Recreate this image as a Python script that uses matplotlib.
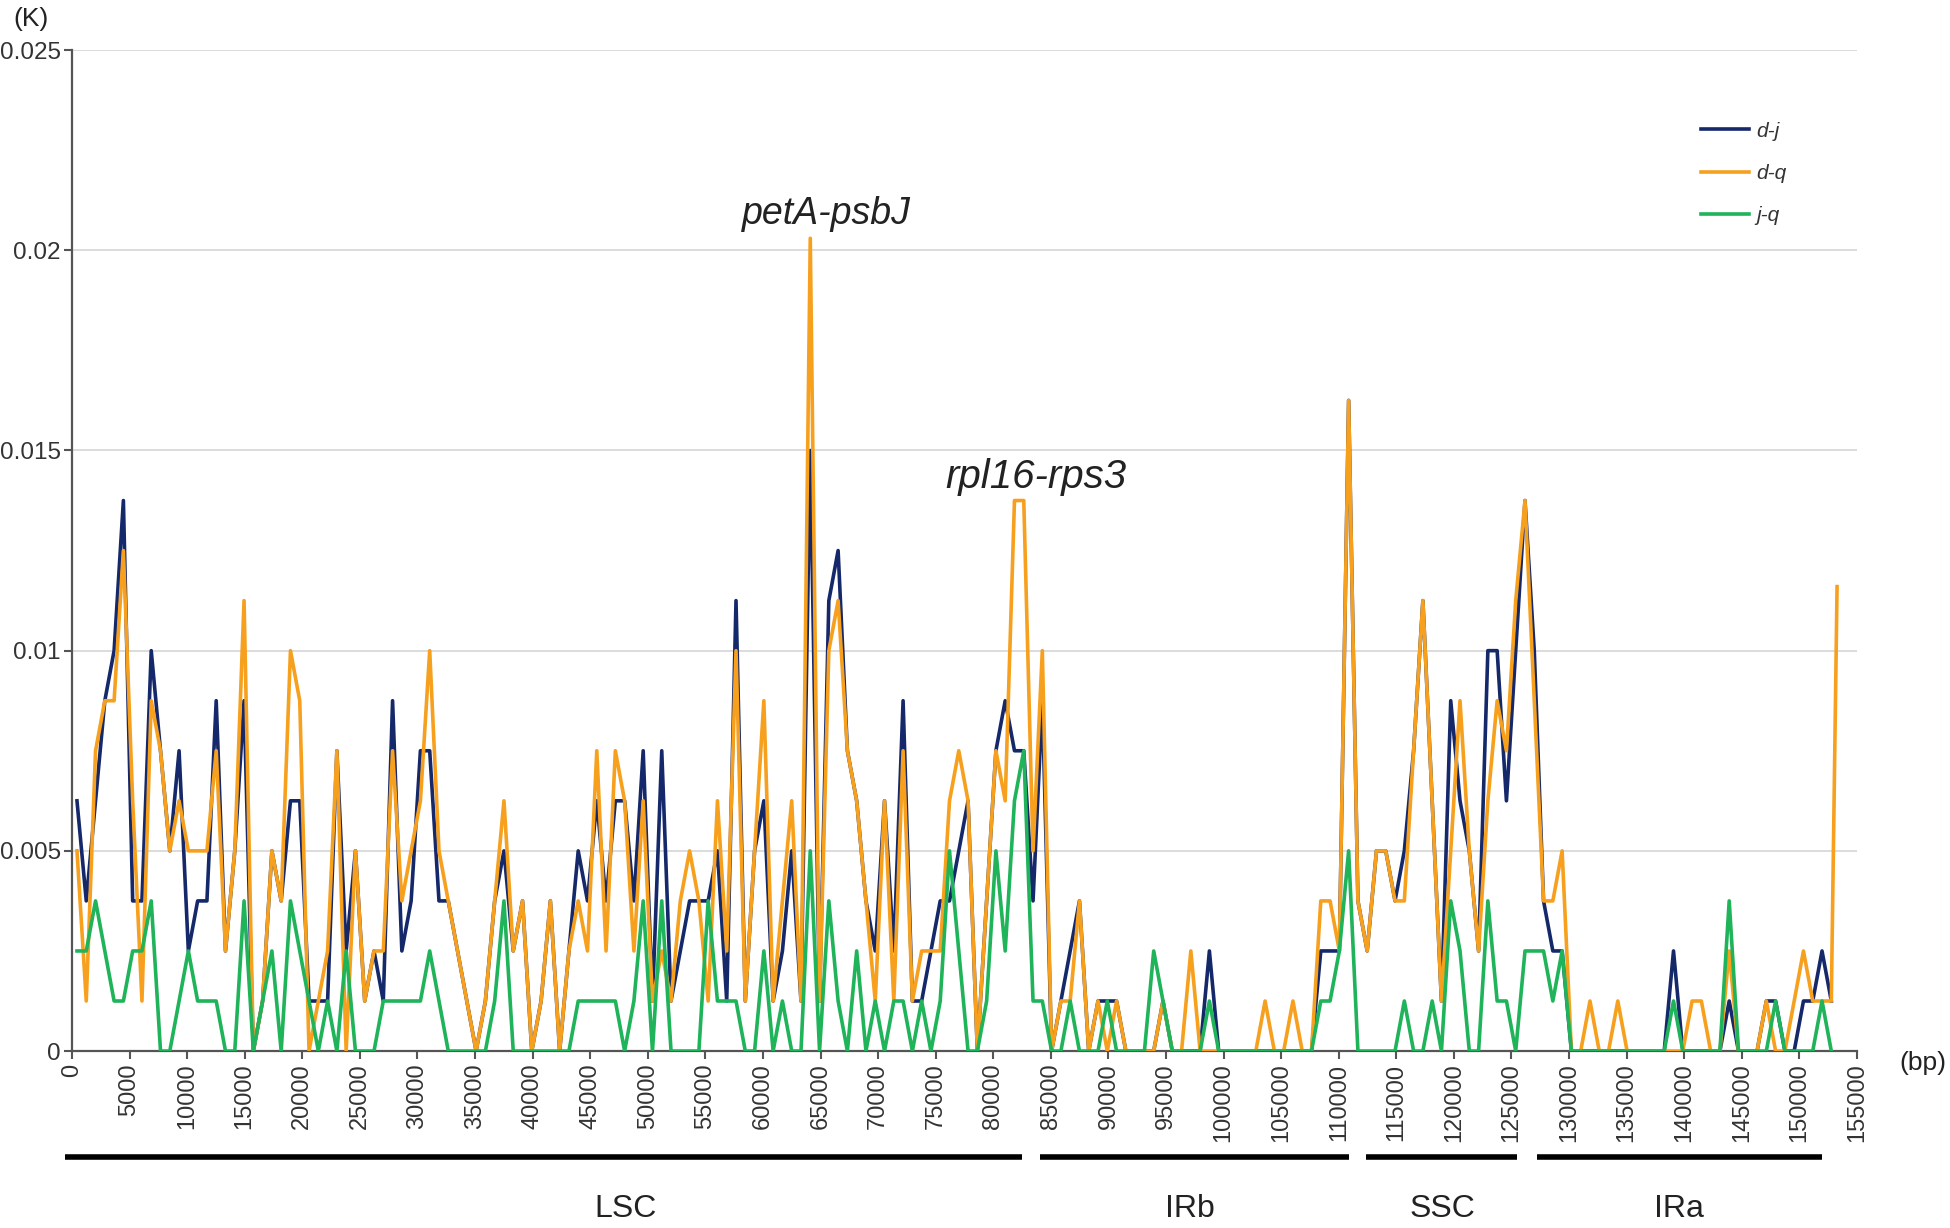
import numpy as np
import matplotlib
matplotlib.use("Agg")
import matplotlib.pyplot as plt
from matplotlib.ticker import FuncFormatter
import matplotlib.transforms as mtransforms

plt.rcParams['font.family'] = ['Liberation Sans', 'DejaVu Sans']

# sliding window midpoints (bp)
win_mid = np.arange(190) * 806 + 436
last_x = 153270

# K values per window
dj = [0.00625, 0.00375, 0.00625, 0.00875, 0.01, 0.01375, 0.00375, 0.00375, 0.01, 0.0075,
      0.005, 0.0075, 0.0025, 0.00375, 0.00375, 0.00875, 0.0025, 0.005, 0.00875, 0,
      0.00125, 0.005, 0.00375, 0.00625, 0.00625, 0.00125, 0.00125, 0.00125, 0.0075, 0.0025,
      0.005, 0.00125, 0.0025, 0.00125, 0.00875, 0.0025, 0.00375, 0.0075, 0.0075, 0.00375,
      0.00375, 0.0025, 0.00125, 0, 0.00125, 0.00375, 0.005, 0.0025, 0.00375, 0,
      0.00125, 0.00375, 0, 0.0025, 0.005, 0.00375, 0.00625, 0.00375, 0.00625, 0.00625,
      0.00375, 0.0075, 0.00125, 0.0075, 0.00125, 0.0025, 0.00375, 0.00375, 0.00375, 0.005,
      0.00125, 0.01125, 0.00125, 0.005, 0.00625, 0.00125, 0.0025, 0.005, 0.00125, 0.015,
      0.00125, 0.01125, 0.0125, 0.0075, 0.00625, 0.00375, 0.0025, 0.00625, 0.0025, 0.00875,
      0.00125, 0.00125, 0.0025, 0.00375, 0.00375, 0.005, 0.00625, 0, 0.00375, 0.0075,
      0.00875, 0.0075, 0.0075, 0.00375, 0.00875, 0, 0.00125, 0.0025, 0.00375, 0,
      0.00125, 0.00125, 0.00125, 0, 0, 0, 0, 0.00125, 0, 0,
      0, 0, 0.0025, 0, 0, 0, 0, 0, 0, 0,
      0, 0, 0, 0, 0.0025, 0.0025, 0.0025, 0.01625, 0.00375, 0.0025,
      0.005, 0.005, 0.00375, 0.005, 0.0075, 0.01125, 0.00625, 0.00125, 0.00875, 0.00625,
      0.005, 0.0025, 0.01, 0.01, 0.00625, 0.01, 0.01375, 0.01, 0.00375, 0.0025,
      0.0025, 0, 0, 0, 0, 0, 0, 0, 0, 0,
      0, 0, 0.0025, 0, 0, 0, 0, 0, 0.00125, 0,
      0, 0, 0.00125, 0.00125, 0, 0, 0.00125, 0.00125, 0.0025, 0.00125]

dq = [0.005, 0.00125, 0.0075, 0.00875, 0.00875, 0.0125, 0.00625, 0.00125, 0.00875, 0.0075,
      0.005, 0.00625, 0.005, 0.005, 0.005, 0.0075, 0.0025, 0.005, 0.01125, 0,
      0.00125, 0.005, 0.00375, 0.01, 0.00875, 0, 0.00125, 0.0025, 0.0075, 0,
      0.005, 0.00125, 0.0025, 0.0025, 0.0075, 0.00375, 0.005, 0.00625, 0.01, 0.005,
      0.00375, 0.0025, 0.00125, 0, 0.00125, 0.00375, 0.00625, 0.0025, 0.00375, 0,
      0.00125, 0.00375, 0, 0.0025, 0.00375, 0.0025, 0.0075, 0.0025, 0.0075, 0.00625,
      0.0025, 0.00625, 0.00125, 0.0025, 0.00125, 0.00375, 0.005, 0.00375, 0.00125, 0.00625,
      0.0025, 0.01, 0.00125, 0.005, 0.00875, 0.00125, 0.00375, 0.00625, 0.00125, 0.0203,
      0.00125, 0.01, 0.01125, 0.0075, 0.00625, 0.00375, 0.00125, 0.00625, 0.00125, 0.0075,
      0.00125, 0.0025, 0.0025, 0.0025, 0.00625, 0.0075, 0.00625, 0, 0.00375, 0.0075,
      0.00625, 0.01375, 0.01375, 0.005, 0.01, 0, 0.00125, 0.00125, 0.00375, 0,
      0.00125, 0, 0.00125, 0, 0, 0, 0, 0.00125, 0, 0,
      0.0025, 0, 0, 0, 0, 0, 0, 0, 0.00125, 0,
      0, 0.00125, 0, 0, 0.00375, 0.00375, 0.0025, 0.01625, 0.00375, 0.0025,
      0.005, 0.005, 0.00375, 0.00375, 0.0075, 0.01125, 0.00625, 0.00125, 0.005, 0.00875,
      0.005, 0.0025, 0.00625, 0.00875, 0.0075, 0.01125, 0.01375, 0.00875, 0.00375, 0.00375,
      0.005, 0, 0, 0.00125, 0, 0, 0.00125, 0, 0, 0,
      0, 0, 0, 0, 0.00125, 0.00125, 0, 0, 0.0025, 0,
      0, 0, 0.00125, 0, 0, 0.00125, 0.0025, 0.00125, 0.00125, 0.00125]
dq_last = 0.0116

jq = [0.0025, 0.0025, 0.00375, 0.0025, 0.00125, 0.00125, 0.0025, 0.0025, 0.00375, 0,
      0, 0.00125, 0.0025, 0.00125, 0.00125, 0.00125, 0, 0, 0.00375, 0,
      0.00125, 0.0025, 0, 0.00375, 0.0025, 0.00125, 0, 0.00125, 0, 0.0025,
      0, 0, 0, 0.00125, 0.00125, 0.00125, 0.00125, 0.00125, 0.0025, 0.00125,
      0, 0, 0, 0, 0, 0.00125, 0.00375, 0, 0, 0,
      0, 0, 0, 0, 0.00125, 0.00125, 0.00125, 0.00125, 0.00125, 0,
      0.00125, 0.00375, 0, 0.00375, 0, 0, 0, 0, 0.00375, 0.00125,
      0.00125, 0.00125, 0, 0, 0.0025, 0, 0.00125, 0, 0, 0.005,
      0, 0.00375, 0.00125, 0, 0.0025, 0, 0.00125, 0, 0.00125, 0.00125,
      0, 0.00125, 0, 0.00125, 0.005, 0.0025, 0, 0, 0.00125, 0.005,
      0.0025, 0.00625, 0.0075, 0.00125, 0.00125, 0, 0, 0.00125, 0, 0,
      0, 0.00125, 0, 0, 0, 0, 0.0025, 0.00125, 0, 0,
      0, 0, 0.00125, 0, 0, 0, 0, 0, 0, 0,
      0, 0, 0, 0, 0.00125, 0.00125, 0.0025, 0.005, 0, 0,
      0, 0, 0, 0.00125, 0, 0, 0.00125, 0, 0.00375, 0.0025,
      0, 0, 0.00375, 0.00125, 0.00125, 0, 0.0025, 0.0025, 0.0025, 0.00125,
      0.0025, 0, 0, 0, 0, 0, 0, 0, 0, 0,
      0, 0, 0.00125, 0, 0, 0, 0, 0, 0.00375, 0,
      0, 0, 0, 0.00125, 0, 0, 0, 0, 0.00125, 0]

# genome regions (bp) and labels
regions = ['LSC', 'IRb', 'SSC', 'IRa']
region_start = [-600, 84050, 112350, 127200]
region_end = [82500, 110900, 125500, 151950]
region_label_x = [48060, 97080, 119010, 139540]

annot_text = ['petA-psbJ', 'rpl16-rps3']
annot_x = [65500, 83700]
annot_y = [0.0209, 0.01435]
annot_size = [27, 29]

c_dj = '#14286a'
c_dq = '#f6a01e'
c_jq = '#1fb35a'

fig = plt.figure(figsize=(19.5, 12.28), dpi=100)
ax = fig.add_axes([0.0369, 0.1441, 0.9154, 0.8151])

ax.plot(win_mid, dj, color=c_dj, lw=2.6, label='d-j', zorder=3)
ax.plot(list(win_mid) + [last_x], dq + [dq_last], color=c_dq, lw=2.6, label='d-q', zorder=4)
ax.plot(win_mid, jq, color=c_jq, lw=2.6, label='j-q', zorder=5)

ax.set_xlim(0, 155000)
ax.set_ylim(0, 0.025)
ax.set_xticks(np.arange(0, 155001, 5000))
ax.set_yticks([0, 0.005, 0.01, 0.015, 0.02, 0.025])
ax.yaxis.set_major_formatter(FuncFormatter(lambda v, p: '%g' % round(v, 4)))
ax.tick_params(axis='x', labelrotation=90, labelsize=17, length=6, width=1.5,
               color='#555555', labelcolor='#333333', pad=3)
ax.tick_params(axis='y', labelsize=17.5, length=6, width=1.5,
               color='#555555', labelcolor='#333333', pad=2)
ax.grid(axis='y', color='#d9d9d9', lw=1.3)
ax.set_axisbelow(True)
for s in ['top', 'right']:
    ax.spines[s].set_visible(False)
for s in ['left', 'bottom']:
    ax.spines[s].set_color('#555555')
    ax.spines[s].set_linewidth(1.6)

# region bars below the axis
trans = mtransforms.blended_transform_factory(ax.transData, ax.transAxes)
for name, x0, x1, xl in zip(regions, region_start, region_end, region_label_x):
    ax.plot([x0, x1], [-0.106, -0.106], color='black', lw=4, transform=trans,
            clip_on=False, solid_capstyle='butt')
    ax.text(xl, -0.158, name, transform=trans, ha='center', va='center',
            fontsize=23, color='#222222')

for t, x, y, fs in zip(annot_text, annot_x, annot_y, annot_size):
    ax.text(x, y, t, ha='center', va='center', fontsize=fs, style='italic', color='#222222')

fig.text(31 / 1950, 1 - 19 / 1228, '(K)', ha='center', va='center', fontsize=19, color='#222222')
fig.text(1923 / 1950, 1 - 1063 / 1228, '(bp)', ha='center', va='center', fontsize=19, color='#222222')

leg = ax.legend(loc='upper left', bbox_to_anchor=(1682 / 1950, 1 - 103 / 1228),
                bbox_transform=fig.transFigure, frameon=False, handlelength=2.3,
                handletextpad=0.35, labelspacing=1.12, prop={'size': 15, 'style': 'italic'})
for txt in leg.get_texts():
    txt.set_color('#333333')

fig.savefig('out.png', dpi=100, facecolor='white')
